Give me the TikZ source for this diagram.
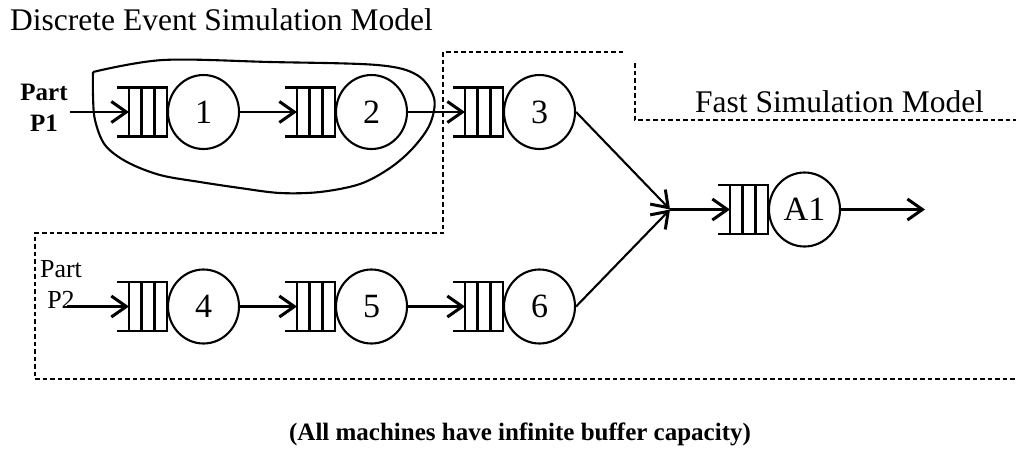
\documentclass[tikz,border=0pt]{standalone}
\usepackage{fontspec}
\setmainfont{Liberation Serif}
\usetikzlibrary{arrows.meta,calc,shapes.geometric}
\begin{document}
\begin{tikzpicture}[x=1pt,y=-1pt,
  machine/.style={draw, ellipse, line width=2.1pt, minimum width=71pt, minimum height=74pt,
    inner sep=0pt, font=\fontsize{34}{34}\selectfont},
  wire/.style={line width=2.1pt},
  flow/.style={wire, -{Straight Barb[length=15pt,width=21pt,line width=3pt]}},
  region/.style={line width=2.4pt, dash pattern=on 4.5pt off 3pt},
  heading/.style={font=\fontsize{31.5}{31.5}\selectfont, anchor=base west, inner sep=0pt},
  partlabel/.style={align=center, inner sep=0pt, font=\fontsize{26}{31}\selectfont}]

\fill[white] (0,0) rectangle (1016,448);
\useasboundingbox (0,0) rectangle (1016,448);

% headings
\node[heading] (title) at (10,30) {Discrete Event Simulation Model};
\node[heading] (fast) at (695,112) {Fast Simulation Model};
\node[font=\bfseries\fontsize{25}{25}\selectfont, anchor=base, inner sep=0pt] (note) at (520,440)
  {(All machines have infinite buffer capacity)};

% machines
\node[machine] (m1) at (203.5,112) {1};
\node[machine] (m2) at (371.5,112) {2};
\node[machine] (m3) at (539.5,112) {3};
\node[machine] (m4) at (203.5,306.5) {4};
\node[machine] (m5) at (371.5,306.5) {5};
\node[machine] (m6) at (539.5,306.5) {6};
\node[machine] (a1) at (804.5,209.5) {A1};

% buffers in front of each machine
\foreach \m in {m1,m2,m3,m4,m5,m6,a1} {
  \draw[wire] ($(\m.west)+(-50,-24.5)$) -- ($(\m.west)+(0,-24.5)$) -- ($(\m.west)+(0,24.5)$) -- ($(\m.west)+(-50,24.5)$);
  \foreach \dx in {-38,-25.5,-12.5}
    \draw[wire] ($(\m.west)+(\dx,-24.5)$) -- ($(\m.west)+(\dx,24.5)$);
  \coordinate (\m-in) at ($(\m.west)+(-38,0)$);
}

% part sources
\node[partlabel, font=\bfseries\fontsize{25}{31}\selectfont] (p1) at (44,107.5) {Part\\P1};
\node[partlabel] (p2) at (61,284.5) {Part\\P2};
\coordinate (p1src) at (70,112);
\coordinate (p2src) at (67,306.5);
\coordinate (join) at (670,209.5);
\coordinate (sink) at (925,209.5);

% material flow
\draw[flow] (p1src) -- (m1-in);
\draw[flow] (m1.east) -- (m2-in);
\draw[flow] (m2.east) -- (m3-in);
\draw[flow] (p2src) -- (m4-in);
\draw[flow] (m4.east) -- (m5-in);
\draw[flow] (m5.east) -- (m6-in);
\draw[flow] (m3.east) -- (join);
\draw[flow] (m6.east) -- (join);
\draw[flow] (join) -- (a1-in);
\draw[flow] (a1.east) -- (sink);

% model boundaries
\draw[region] (623,52) -- (443,52) -- (443,233) -- (35,233) -- (35,379) -- (1016,379);
\draw[region] (635,63) -- (635,120) -- (1016,120);

% hand-drawn outline around machines 1 and 2
\draw[wire, line join=round] plot[smooth, tension=0.55] coordinates {
  (93,72) (163,60) (270,62) (377,65) (417,75) (434,98) (430,124) (413,148) (390,168)
  (360,184) (320,192) (280,193) (240,188) (200,182) (160,175) (127,162) (105,145)
  (95,120) (93,95) (93,72)};
\end{tikzpicture}
\end{document}
